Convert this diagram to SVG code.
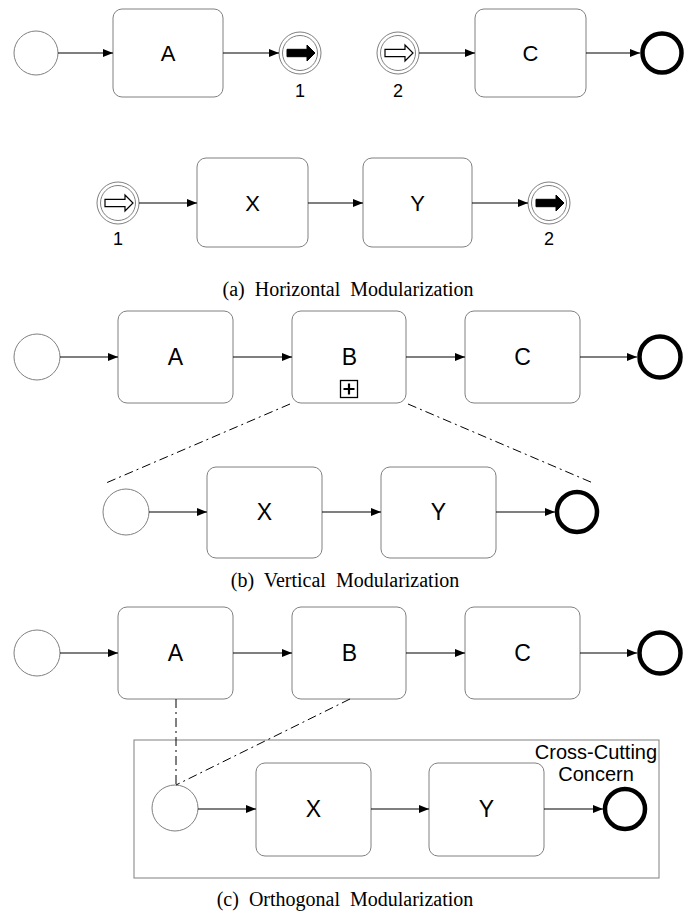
<svg xmlns="http://www.w3.org/2000/svg" width="691" height="916" viewBox="0 0 691 916">
<style>
.task{fill:#fff;stroke:#808080;stroke-width:1}
.ev{fill:#fff;stroke:#808080;stroke-width:1}
.end{fill:#fff;stroke:#000;stroke-width:4.5}
.flow{stroke:#000;stroke-width:1.2;fill:none;marker-end:url(#ah)}
.dd{stroke:#000;stroke-width:1;stroke-dasharray:9 4 2 4;fill:none}
.lbl{font-family:"Liberation Sans",Arial,sans-serif;font-size:22px;text-anchor:middle;fill:#000}
.lbl2{font-family:"Liberation Sans",Arial,sans-serif;font-size:23px;text-anchor:middle;fill:#000}
.num{font-family:"Liberation Sans",Arial,sans-serif;font-size:18px;text-anchor:middle;fill:#000}
.cc{font-family:"Liberation Sans",Arial,sans-serif;font-size:20px;text-anchor:middle;fill:#000}
.cap{font-family:"Liberation Serif","Times New Roman",serif;font-size:20px;word-spacing:5px;text-anchor:middle;fill:#000}
.thr{fill:#000;stroke:#000;stroke-width:1}
.cat{fill:#fff;stroke:#000;stroke-width:1.2}
</style>
<defs>
<marker id="ah" viewBox="0 0 10 8" refX="10" refY="4" markerWidth="10" markerHeight="8" markerUnits="userSpaceOnUse" orient="auto"><path d="M0,0 L10,4 L0,8 z" fill="#000"/></marker>
<path id="arr" d="M-13,-3.7 L7,-3.7 L7,-8 L15,0 L7,8 L7,3.7 L-13,3.7 Z"/>
</defs>

<!-- (a) Horizontal -->
<g id="a-start"><circle class="ev" cx="36" cy="53" r="22"/></g>
<g id="a-A"><rect class="task" x="113" y="9" width="110" height="88" rx="9"/><text class="lbl" x="168" y="61">A</text></g>
<g id="a-link1"><circle class="ev" cx="300" cy="53" r="21"/><circle class="ev" cx="300" cy="53" r="17.5"/><use href="#arr" class="thr" x="300" y="53"/><text class="num" x="300" y="97">1</text></g>
<g id="a-link2"><circle class="ev" cx="398" cy="53" r="21"/><circle class="ev" cx="398" cy="53" r="17.5"/><use href="#arr" class="cat" x="398" y="53"/><text class="num" x="398" y="97">2</text></g>
<g id="a-C"><rect class="task" x="475" y="9" width="111" height="88" rx="9"/><text class="lbl" x="530.5" y="61">C</text></g>
<g id="a-end"><circle class="end" cx="662" cy="53" r="19.5"/></g>

<g id="a-link1c"><circle class="ev" cx="118" cy="203" r="21"/><circle class="ev" cx="118" cy="203" r="17.5"/><use href="#arr" class="cat" x="118" y="203"/><text class="num" x="118" y="245">1</text></g>
<g id="a-X"><rect class="task" x="197" y="158" width="111" height="89" rx="9"/><text class="lbl" x="252.5" y="210.5">X</text></g>
<g id="a-Y"><rect class="task" x="363" y="158" width="109" height="89" rx="9"/><text class="lbl" x="417.5" y="210.5">Y</text></g>
<g id="a-link2t"><circle class="ev" cx="549" cy="203" r="21"/><circle class="ev" cx="549" cy="203" r="17.5"/><use href="#arr" class="thr" x="549" y="203"/><text class="num" x="549" y="245">2</text></g>
<text class="cap" x="348" y="296">(a) Horizontal Modularization</text>

<!-- (b) Vertical -->
<g id="b-start"><circle class="ev" cx="37" cy="357" r="23"/></g>
<g id="b-A"><rect class="task" x="118" y="311" width="115" height="92" rx="9"/><text class="lbl2" x="175.5" y="365">A</text></g>
<g id="b-B"><rect class="task" x="292" y="311" width="114" height="92" rx="9"/><text class="lbl2" x="349.5" y="365">B</text>
<rect x="340.5" y="380.5" width="17" height="17" fill="#fff" stroke="#000" stroke-width="1.3"/><path d="M349,383.5 V394.5 M343.5,389 H354.5" stroke="#000" stroke-width="2.2"/></g>
<g id="b-C"><rect class="task" x="465" y="311" width="115" height="92" rx="9"/><text class="lbl2" x="522.5" y="365">C</text></g>
<g id="b-end"><circle class="end" cx="660" cy="357" r="20.5"/></g>

<g id="b-start2"><circle class="ev" cx="126" cy="512" r="23"/></g>
<g id="b-X"><rect class="task" x="207" y="467" width="115" height="91" rx="9"/><text class="lbl2" x="264.5" y="520">X</text></g>
<g id="b-Y"><rect class="task" x="381" y="467" width="115" height="91" rx="9"/><text class="lbl2" x="438.5" y="520">Y</text></g>
<g id="b-end2"><circle class="end" cx="577" cy="512" r="20"/></g>
<text class="cap" x="345" y="587">(b) Vertical Modularization</text>

<!-- (c) Orthogonal -->
<g id="c-start"><circle class="ev" cx="37" cy="653" r="23"/></g>
<g id="c-A"><rect class="task" x="118" y="607" width="115" height="92" rx="9"/><text class="lbl2" x="175.5" y="661">A</text></g>
<g id="c-B"><rect class="task" x="292" y="607" width="114" height="92" rx="9"/><text class="lbl2" x="349.5" y="661">B</text></g>
<g id="c-C"><rect class="task" x="465" y="607" width="115" height="92" rx="9"/><text class="lbl2" x="522.5" y="661">C</text></g>
<g id="c-end"><circle class="end" cx="660" cy="653" r="20.5"/></g>

<g id="c-concern"><rect x="134" y="740" width="525" height="138" fill="none" stroke="#808080" stroke-width="1"/>
<text class="cc" x="596" y="759">Cross-Cutting</text><text class="cc" x="596" y="781">Concern</text></g>
<g id="c-start2"><circle class="ev" cx="175" cy="808" r="23"/></g>
<g id="c-X"><rect class="task" x="256" y="763" width="115" height="93" rx="9"/><text class="lbl2" x="313.5" y="817">X</text></g>
<g id="c-Y"><rect class="task" x="429" y="763" width="115" height="93" rx="9"/><text class="lbl2" x="486.5" y="817">Y</text></g>
<g id="c-end2"><circle class="end" cx="625" cy="809" r="20"/></g>
<text class="cap" x="345" y="906">(c) Orthogonal Modularization</text>

<g id="connectors">
<line class="flow" x1="58" y1="53" x2="113" y2="53"/>
<line class="flow" x1="223" y1="53" x2="279" y2="53"/>
<line class="flow" x1="419" y1="53" x2="475" y2="53"/>
<line class="flow" x1="586" y1="53" x2="640" y2="53"/>
<line class="flow" x1="139" y1="203" x2="197" y2="203"/>
<line class="flow" x1="308" y1="203" x2="363" y2="203"/>
<line class="flow" x1="472" y1="203" x2="528" y2="203"/>

<line class="flow" x1="60" y1="357" x2="118" y2="357"/>
<line class="flow" x1="233" y1="357" x2="292" y2="357"/>
<line class="flow" x1="406" y1="357" x2="465" y2="357"/>
<line class="flow" x1="580" y1="357" x2="637" y2="357"/>
<line class="dd" x1="290" y1="404" x2="106" y2="483"/>
<line class="dd" x1="408" y1="404" x2="593" y2="483"/>
<line class="flow" x1="149" y1="512" x2="207" y2="512"/>
<line class="flow" x1="322" y1="512" x2="381" y2="512"/>
<line class="flow" x1="496" y1="512" x2="555" y2="512"/>

<line class="flow" x1="60" y1="653" x2="118" y2="653"/>
<line class="flow" x1="233" y1="653" x2="292" y2="653"/>
<line class="flow" x1="406" y1="653" x2="465" y2="653"/>
<line class="flow" x1="580" y1="653" x2="637" y2="653"/>
<line class="dd" x1="176" y1="699" x2="176" y2="785"/>
<line class="dd" x1="350" y1="699" x2="176" y2="785"/>
<line class="flow" x1="198" y1="809" x2="256" y2="809"/>
<line class="flow" x1="371" y1="809" x2="429" y2="809"/>
<line class="flow" x1="544" y1="809" x2="603" y2="809"/>
</g>
</svg>
